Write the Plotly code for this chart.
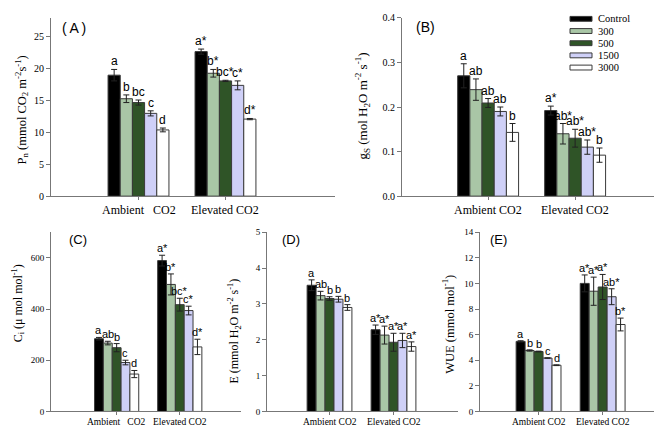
import plotly.graph_objects as go

W, H = 662, 426

# ---------------- data ----------------
co2_levels = ["Ambient CO2", "Elevated CO2"]
treatments = ["Control", "300", "500", "1500", "3000"]
colors = ["#000000", "#a9c6a6", "#2f5427", "#cfd0f7", "#ffffff"]

# each row: one treatment, values for [Ambient, Elevated]
pn_mean = [[19.0, 22.7], [15.3, 19.3], [14.7, 18.1], [13.0, 17.4], [10.4, 12.1]]
pn_err = [[0.9, 0.4], [0.6, 0.6], [0.4, 0.1], [0.4, 0.7], [0.3, 0.1]]
pn_letters = [["a", "a*"], ["b", "b*"], ["bc", "bc*"], ["c", "c*"], ["d", "d*"]]

gs_mean = [[0.270, 0.192], [0.239, 0.140], [0.209, 0.130], [0.190, 0.110], [0.143, 0.092]]
gs_err = [[0.027, 0.010], [0.024, 0.023], [0.010, 0.020], [0.010, 0.016], [0.020, 0.016]]
gs_letters = [["a", "a*"], ["ab", "ab*"], ["ab", "ab*"], ["ab", "ab*"], ["b", "b"]]

ci_mean = [[284, 589], [267, 496], [249, 417], [191, 394], [146, 252]]
ci_err = [[5, 21], [7, 41], [16, 25], [9, 17], [14, 30]]
ci_letters = [["a", "a*"], ["ab", "b*"], ["b", "bc*"], ["c", "c*"], ["d", "d*"]]

e_mean = [[3.52, 2.28], [3.23, 2.13], [3.15, 1.93], [3.13, 1.98], [2.90, 1.81]]
e_err = [[0.15, 0.13], [0.12, 0.25], [0.05, 0.25], [0.08, 0.20], [0.08, 0.13]]
e_letters = [["a", "a*"], ["ab", "a*"], ["b", "a*"], ["b", "a*"], ["b", "a*"]]

wue_mean = [[5.47, 10.0], [4.76, 9.39], [4.68, 9.72], [4.17, 8.96], [3.61, 6.79]]
wue_err = [[0.05, 0.66], [0.05, 1.10], [0.03, 0.98], [0.02, 0.62], [0.03, 0.50]]
wue_letters = [["a", "a*"], ["b", "a*"], ["b", "a*"], ["c", "ab*"], ["d", "b*"]]

panels = [
    dict(key="", label="(\u2009A\u2009)", mean=pn_mean, err=pn_err, letters=pn_letters,
         ytitle="P<sub>n</sub> (mmol CO<sub>2</sub> m<sup>-2</sup>s<sup>-1</sup>)",
         yticks=[0, 5, 10, 15, 20, 25], ytext=["0", "5", "10", "15", "20", "25"], yrange=[0, 28],
         xdom=[43, 327], ydom=[5, 188], xrange=[-1.006, 2.259],
         xtext=["Ambient\u00a0\u00a0\u00a0CO2", "Elevated CO2"], row=0, xlab_y=202,
         title_pos=(14, 100), title_size=12.5, label_pos=(66, 15)),
    dict(key="2", label="(B)", mean=gs_mean, err=gs_err, letters=gs_letters,
         ytitle="g<sub>S</sub> (mol H<sub>2</sub>O m<sup>-2</sup> s<sup>-1</sup>)",
         yticks=[0, 0.1, 0.2, 0.3, 0.4], ytext=["0.0", "0.1", "0.2", "0.3", "0.4"], yrange=[0, 0.4],
         xdom=[394, 655], ydom=[5, 188], xrange=[-0.99, 2.01],
         xtext=["Ambient CO2", "Elevated CO2"], row=0, xlab_y=202,
         title_pos=(354, 96), title_size=13, label_pos=(417, 14)),
    dict(key="3", label="(C)", mean=ci_mean, err=ci_err, letters=ci_letters,
         ytitle="C<sub>i</sub> (\u03bc mol mol<sup>-1</sup>)",
         yticks=[0, 200, 400, 600], ytext=["0", "200", "400", "600"], yrange=[0, 700],
         xdom=[43, 233], ydom=[225, 409], xrange=[-1.04, 1.97],
         xtext=["Ambient\u00a0\u00a0\u00a0CO2", "Elevated CO2"], row=1, xlab_y=420,
         title_pos=(10, 298), title_size=12, label_pos=(70, 233)),
    dict(key="4", label="(D)", mean=e_mean, err=e_err, letters=e_letters,
         ytitle="E (mmol H<sub>2</sub>O m<sup>-2</sup> s<sup>-1</sup>)",
         yticks=[0, 1, 2, 3, 4, 5], ytext=["0", "1", "2", "3", "4", "5"], yrange=[0, 5],
         xdom=[259, 450], ydom=[225, 409], xrange=[-0.977, 2.008],
         xtext=["Ambient CO2", "Elevated CO2"], row=1, xlab_y=420,
         title_pos=(227, 326), title_size=12, label_pos=(283, 233)),
    dict(key="5", label="(E)", mean=wue_mean, err=wue_err, letters=wue_letters,
         ytitle="WUE (mmol mol<sup>-1</sup>)",
         yticks=[0, 2, 4, 6, 8, 10, 12, 14], ytext=["0", "2", "4", "6", "8", "10", "12", "14"], yrange=[0, 14],
         xdom=[472, 660], ydom=[225, 409], xrange=[-0.914, 2.02],
         xtext=["Ambient CO2", "Elevated CO2"], row=1, xlab_y=420,
         title_pos=(440, 320), title_size=12.5, label_pos=(490, 233)),
]

BARGAP = 0.3
n_tr = len(treatments)
bar_w = (1 - BARGAP) / n_tr

SERIF = "Liberation Serif, Times New Roman, serif"
SANS = "Liberation Sans, Arial, sans-serif"
AXC = "#777777"


def px_x(x):
    return x / W


def px_y(y):
    return 1 - y / H


fig = go.Figure()
annotations = []
shapes = []
layout_axes = {}

for p in panels:
    k = p["key"]
    xa, ya = "x" + k, "y" + k
    for i, tr in enumerate(treatments):
        fig.add_trace(go.Bar(
            x=list(range(len(co2_levels))), y=p["mean"][i], name=tr,
            xaxis=xa, yaxis=ya, showlegend=False,
            marker=dict(color=colors[i], line=dict(color="#3a3a3a", width=1)),
            error_y=dict(type="data", array=p["err"][i], visible=True,
                         thickness=1, width=3, color="#222222"),
        ))
        for j in range(len(co2_levels)):
            annotations.append(dict(
                x=j + (i - (n_tr - 1) / 2) * bar_w, y=p["mean"][i][j] + p["err"][i][j],
                xref=xa, yref=ya, text=p["letters"][i][j], showarrow=False,
                xanchor="center", yanchor="bottom", yshift=-1,
                font=dict(family=SANS, size=12 if p["row"] == 0 else 11, color="black"),
            ))
    tick_size = 10 if p["row"] == 0 else 9
    xlab_size = 12 if p["row"] == 0 else 9.5
    # category labels under the x axis
    for j, txt in enumerate(p["xtext"]):
        annotations.append(dict(
            x=j, y=px_y(p["xlab_y"]), xref=xa, yref="paper", text=txt,
            showarrow=False, xanchor="center", yanchor="middle",
            font=dict(family=SERIF, size=xlab_size, color="black"),
        ))
    xname = "xaxis" + k
    yname = "yaxis" + k
    layout_axes[xname] = dict(
        domain=[px_x(p["xdom"][0]), px_x(p["xdom"][1])], anchor=ya,
        range=p["xrange"], tickvals=[0, 1], showticklabels=False,
        showline=True, linecolor=AXC, linewidth=1, ticks="outside", ticklen=3,
        tickcolor=AXC, showgrid=False, zeroline=False,
    )
    layout_axes[yname] = dict(
        domain=[px_y(p["ydom"][1]), px_y(p["ydom"][0])], anchor=xa,
        range=p["yrange"], tickvals=p["yticks"], ticktext=p["ytext"],
        showline=True, linecolor=AXC, linewidth=1, ticks="outside", ticklen=4,
        tickcolor=AXC, showgrid=False, zeroline=False,
        tickfont=dict(family=SERIF, size=tick_size, color="black"),
    )
    tx, ty = p["title_pos"]
    annotations.append(dict(
        x=px_x(tx), y=px_y(ty), xref="paper", yref="paper", text=p["ytitle"],
        textangle=-90, showarrow=False, xanchor="center", yanchor="middle",
        font=dict(family=SERIF, size=p["title_size"], color="black"),
    ))
    lx, ly = p["label_pos"]
    annotations.append(dict(
        x=px_x(lx), y=px_y(ly), xref="paper", yref="paper", text=p["label"],
        showarrow=False, xanchor="center", yanchor="middle",
        font=dict(family=SANS, size=14 if p["row"] == 0 else 13, color="black"),
    ))

# manual legend (panel B)
for i, tr in enumerate(treatments):
    yc = 6 + 12.5 * i
    shapes.append(dict(type="rect", xref="paper", yref="paper",
                       x0=px_x(562), x1=px_x(584), y0=px_y(yc + 2.5), y1=px_y(yc - 2.5),
                       fillcolor=colors[i], line=dict(color="#3a3a3a", width=1)))
    annotations.append(dict(x=px_x(588), y=px_y(yc), xref="paper", yref="paper",
                            text=tr, showarrow=False, xanchor="left", yanchor="middle",
                            font=dict(family=SERIF, size=10.5, color="black")))

fig.update_layout(
    width=W, height=H, autosize=False,
    margin=dict(l=0, r=0, t=0, b=0),
    paper_bgcolor="white", plot_bgcolor="white",
    barmode="group", bargap=BARGAP, bargroupgap=0,
    showlegend=False,
    annotations=annotations, shapes=shapes,
    **layout_axes,
)

fig.write_html("out.html")
